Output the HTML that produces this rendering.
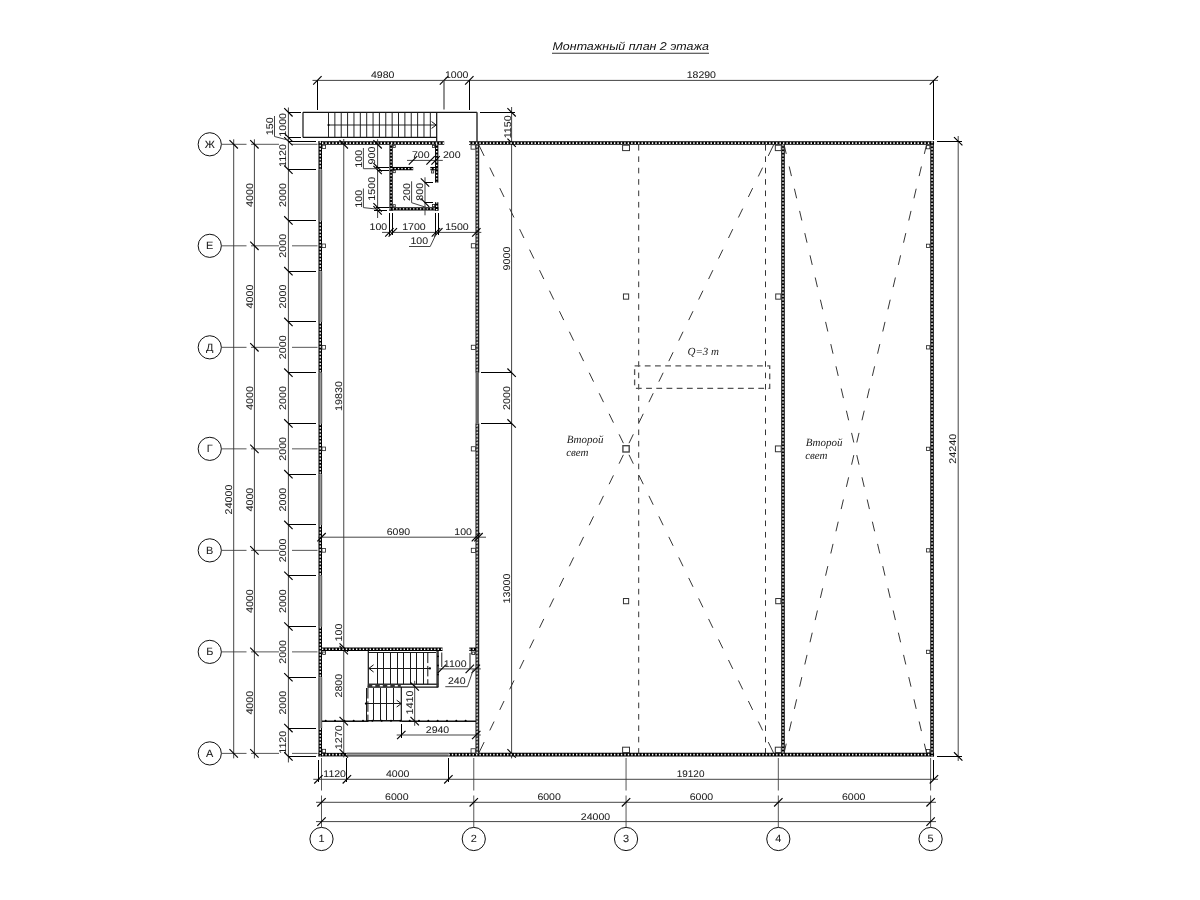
<!DOCTYPE html>
<html lang="ru"><head><meta charset="utf-8"><title>Монтажный план 2 этажа</title>
<style>
html,body{margin:0;padding:0;background:#fff;}
body{width:1200px;height:900px;overflow:hidden;font-family:"Liberation Sans",sans-serif;}
svg{display:block;position:absolute;left:0;top:0;filter:blur(0.25px);}
text{font-family:"Liberation Sans",sans-serif;text-rendering:geometricPrecision;}
.tx{fill:#1c1c1c;stroke:#1c1c1c;stroke-width:0.05;}
.ttl{fill:#111;font-style:italic;}
.it{font-family:"Liberation Serif",serif;font-style:italic;fill:#222;}
.ul{stroke:#333;stroke-width:1.1;}
.d{stroke:#3a3a3a;stroke-width:0.95;}
.t{stroke:#000;stroke-width:1.15;}
.e{stroke:#000;stroke-width:1;shape-rendering:crispEdges;}
.e2{stroke:#555;stroke-width:1.3;}
.e1{stroke:#000;stroke-width:1;shape-rendering:crispEdges;}
.o{stroke:#111;stroke-width:1.2;}
.o2{stroke:#333;stroke-width:1.5;}
.st{stroke:#1a1a1a;stroke-width:1;shape-rendering:crispEdges;}
.sdash{stroke:#111;stroke-width:1.0;stroke-dasharray:10.5 2.8;}
.ar{stroke:#111;stroke-width:1.0;}
.rail{stroke:#3c3c3c;stroke-width:2.5;}
.st0{stroke:#1a1a1a;stroke-width:0.95;}
.hat{stroke:#333;stroke-width:2.6;stroke-dasharray:4.5 3;}
.rl{stroke:#111;stroke-width:1.5;}
.ax{stroke:#444;stroke-width:0.9;}
.ac{fill:#fff;stroke:#111;stroke-width:1;}
.w{stroke:#000;stroke-width:3.55;}
.wd{stroke:#fff;stroke-width:1.75;stroke-dasharray:1.4 2.05;}
.wdv{stroke:#fff;stroke-width:1.25;stroke-dasharray:1.9 1.53;}
.w2{stroke:#858585;stroke-width:3.8;}
.w2r{stroke:#000;stroke-width:1.0;}
.w2l{stroke:#6e6e6e;stroke-width:0.8;}
.w2k{stroke:#000;stroke-width:1.3;stroke-dasharray:1.3 2.14;}
.w2w{stroke:#e6e6e6;stroke-width:0.95;stroke-dasharray:0.95 2.49;}
.wd2{stroke:#c4c4c4;stroke-width:1.6;stroke-dasharray:1.5 1.7;}
.w3{stroke:#000;stroke-width:3.3;}
.wd3{stroke:#fff;stroke-width:1.4;stroke-dasharray:1.35 2.05;}
.wb{stroke:#9a9a9a;stroke-width:3.6;}
.wl{stroke:#4a4a4a;stroke-width:1.3;}
.wr{stroke:#555;stroke-width:0.9;}
.op{stroke:#666;stroke-width:3.4;}
.col{fill:#fff;stroke:#333;stroke-width:1.0;}
.colb{fill:#fff;stroke:#444;stroke-width:1.35;}
.cols{fill:#fff;stroke:#222;stroke-width:0.8;}
.dgl{stroke:#2a2a2a;stroke-width:0.95;}
.dv{stroke:#2a2a2a;stroke-width:0.95;stroke-dasharray:5.6 5.78;}
.cr{fill:none;stroke:#555;stroke-width:1.3;stroke-dasharray:5.8 4.4;}
</style></head>
<body>
<svg width="1200" height="900" viewBox="0 0 1200 900">
<rect x="0" y="0" width="1200" height="900" fill="#fff"/>
<text class="ttl" transform="translate(552.5 50) scale(1.102 1)" font-size="11.3">Монтажный план 2 этажа</text>
<line class="ul" x1="552" y1="53.2" x2="709" y2="53.2"/>
<circle class="ac" cx="209.75" cy="144.3" r="11.6"/>
<text class="tx" transform="translate(209.75 147.75) scale(1.04 1)" text-anchor="middle" font-size="10.5">Ж</text>
<line class="ax" x1="221.25" y1="144.3" x2="246.5" y2="144.3"/>
<line class="ax" x1="251" y1="144.3" x2="279" y2="144.3"/>
<line class="ax" x1="292" y1="144.3" x2="317.5" y2="144.3"/>
<circle class="ac" cx="209.75" cy="245.82" r="11.6"/>
<text class="tx" transform="translate(209.75 249.27) scale(1.04 1)" text-anchor="middle" font-size="10.5">Е</text>
<line class="ax" x1="221.25" y1="245.82" x2="246.5" y2="245.82"/>
<line class="ax" x1="251" y1="245.82" x2="279" y2="245.82"/>
<line class="ax" x1="292" y1="245.82" x2="317.5" y2="245.82"/>
<circle class="ac" cx="209.75" cy="347.33" r="11.6"/>
<text class="tx" transform="translate(209.75 350.78) scale(1.04 1)" text-anchor="middle" font-size="10.5">Д</text>
<line class="ax" x1="221.25" y1="347.33" x2="246.5" y2="347.33"/>
<line class="ax" x1="251" y1="347.33" x2="279" y2="347.33"/>
<line class="ax" x1="292" y1="347.33" x2="317.5" y2="347.33"/>
<circle class="ac" cx="209.75" cy="448.85" r="11.6"/>
<text class="tx" transform="translate(209.75 452.3) scale(1.04 1)" text-anchor="middle" font-size="10.5">Г</text>
<line class="ax" x1="221.25" y1="448.85" x2="246.5" y2="448.85"/>
<line class="ax" x1="251" y1="448.85" x2="279" y2="448.85"/>
<line class="ax" x1="292" y1="448.85" x2="317.5" y2="448.85"/>
<circle class="ac" cx="209.75" cy="550.36" r="11.6"/>
<text class="tx" transform="translate(209.75 553.81) scale(1.04 1)" text-anchor="middle" font-size="10.5">В</text>
<line class="ax" x1="221.25" y1="550.36" x2="246.5" y2="550.36"/>
<line class="ax" x1="251" y1="550.36" x2="279" y2="550.36"/>
<line class="ax" x1="292" y1="550.36" x2="317.5" y2="550.36"/>
<circle class="ac" cx="209.75" cy="651.88" r="11.6"/>
<text class="tx" transform="translate(209.75 655.33) scale(1.04 1)" text-anchor="middle" font-size="10.5">Б</text>
<line class="ax" x1="221.25" y1="651.88" x2="246.5" y2="651.88"/>
<line class="ax" x1="251" y1="651.88" x2="279" y2="651.88"/>
<line class="ax" x1="292" y1="651.88" x2="317.5" y2="651.88"/>
<circle class="ac" cx="209.75" cy="753.4" r="11.6"/>
<text class="tx" transform="translate(209.75 756.85) scale(1.04 1)" text-anchor="middle" font-size="10.5">А</text>
<line class="ax" x1="221.25" y1="753.4" x2="246.5" y2="753.4"/>
<line class="ax" x1="251" y1="753.4" x2="279" y2="753.4"/>
<line class="ax" x1="292" y1="753.4" x2="317.5" y2="753.4"/>
<circle class="ac" cx="321.5" cy="839" r="11.6"/>
<text class="tx" transform="translate(321.5 842.45) scale(1.04 1)" text-anchor="middle" font-size="10.5">1</text>
<line class="ax" x1="321.5" y1="758" x2="321.5" y2="790.5"/>
<line class="ax" x1="321.5" y1="795.5" x2="321.5" y2="827.5"/>
<circle class="ac" cx="473.77" cy="839" r="11.6"/>
<text class="tx" transform="translate(473.77 842.45) scale(1.04 1)" text-anchor="middle" font-size="10.5">2</text>
<line class="ax" x1="473.77" y1="758" x2="473.77" y2="790.5"/>
<line class="ax" x1="473.77" y1="795.5" x2="473.77" y2="827.5"/>
<circle class="ac" cx="626.05" cy="839" r="11.6"/>
<text class="tx" transform="translate(626.05 842.45) scale(1.04 1)" text-anchor="middle" font-size="10.5">3</text>
<line class="ax" x1="626.05" y1="758" x2="626.05" y2="790.5"/>
<line class="ax" x1="626.05" y1="795.5" x2="626.05" y2="827.5"/>
<circle class="ac" cx="778.32" cy="839" r="11.6"/>
<text class="tx" transform="translate(778.32 842.45) scale(1.04 1)" text-anchor="middle" font-size="10.5">4</text>
<line class="ax" x1="778.32" y1="758" x2="778.32" y2="790.5"/>
<line class="ax" x1="778.32" y1="795.5" x2="778.32" y2="827.5"/>
<circle class="ac" cx="930.6" cy="839" r="11.6"/>
<text class="tx" transform="translate(930.6 842.45) scale(1.04 1)" text-anchor="middle" font-size="10.5">5</text>
<line class="ax" x1="930.6" y1="758" x2="930.6" y2="790.5"/>
<line class="ax" x1="930.6" y1="795.5" x2="930.6" y2="827.5"/>
<line class="d" x1="233.7" y1="139.3" x2="233.7" y2="758.4"/>
<line class="t" x1="229.5" y1="140.1" x2="237.9" y2="148.5"/>
<line class="t" x1="229.5" y1="749.2" x2="237.9" y2="757.6"/>
<text class="tx" transform="translate(231.5 499.55) rotate(-90) scale(1.11 1)" text-anchor="middle" font-size="9.7">24000</text>
<line class="d" x1="254.4" y1="139.3" x2="254.4" y2="758.4"/>
<line class="t" x1="250.2" y1="140.1" x2="258.6" y2="148.5"/>
<line class="t" x1="250.2" y1="241.62" x2="258.6" y2="250.02"/>
<line class="t" x1="250.2" y1="343.13" x2="258.6" y2="351.53"/>
<line class="t" x1="250.2" y1="444.65" x2="258.6" y2="453.05"/>
<line class="t" x1="250.2" y1="546.16" x2="258.6" y2="554.56"/>
<line class="t" x1="250.2" y1="647.68" x2="258.6" y2="656.08"/>
<line class="t" x1="250.2" y1="749.2" x2="258.6" y2="757.6"/>
<text class="tx" transform="translate(252.6 195.06) rotate(-90) scale(1.11 1)" text-anchor="middle" font-size="9.7">4000</text>
<text class="tx" transform="translate(252.6 296.57) rotate(-90) scale(1.11 1)" text-anchor="middle" font-size="9.7">4000</text>
<text class="tx" transform="translate(252.6 398.09) rotate(-90) scale(1.11 1)" text-anchor="middle" font-size="9.7">4000</text>
<text class="tx" transform="translate(252.6 499.61) rotate(-90) scale(1.11 1)" text-anchor="middle" font-size="9.7">4000</text>
<text class="tx" transform="translate(252.6 601.12) rotate(-90) scale(1.11 1)" text-anchor="middle" font-size="9.7">4000</text>
<text class="tx" transform="translate(252.6 702.64) rotate(-90) scale(1.11 1)" text-anchor="middle" font-size="9.7">4000</text>
<line class="d" x1="288.4" y1="107.5" x2="288.4" y2="762.44"/>
<line class="t" x1="284.2" y1="137.05" x2="292.6" y2="145.45"/>
<line class="t" x1="284.2" y1="165.48" x2="292.6" y2="173.88"/>
<line class="e" x1="288.4" y1="169.68" x2="316.2" y2="169.68"/>
<line class="t" x1="284.2" y1="216.24" x2="292.6" y2="224.64"/>
<line class="e" x1="288.4" y1="220.44" x2="316.2" y2="220.44"/>
<line class="t" x1="284.2" y1="267" x2="292.6" y2="275.39"/>
<line class="e" x1="288.4" y1="271.19" x2="316.2" y2="271.19"/>
<line class="t" x1="284.2" y1="317.75" x2="292.6" y2="326.15"/>
<line class="e" x1="288.4" y1="321.95" x2="316.2" y2="321.95"/>
<line class="t" x1="284.2" y1="368.51" x2="292.6" y2="376.91"/>
<line class="e" x1="288.4" y1="372.71" x2="316.2" y2="372.71"/>
<line class="t" x1="284.2" y1="419.27" x2="292.6" y2="427.67"/>
<line class="e" x1="288.4" y1="423.47" x2="316.2" y2="423.47"/>
<line class="t" x1="284.2" y1="470.03" x2="292.6" y2="478.43"/>
<line class="e" x1="288.4" y1="474.23" x2="316.2" y2="474.23"/>
<line class="t" x1="284.2" y1="520.78" x2="292.6" y2="529.18"/>
<line class="e" x1="288.4" y1="524.98" x2="316.2" y2="524.98"/>
<line class="t" x1="284.2" y1="571.54" x2="292.6" y2="579.94"/>
<line class="e" x1="288.4" y1="575.74" x2="316.2" y2="575.74"/>
<line class="t" x1="284.2" y1="622.3" x2="292.6" y2="630.7"/>
<line class="e" x1="288.4" y1="626.5" x2="316.2" y2="626.5"/>
<line class="t" x1="284.2" y1="673.06" x2="292.6" y2="681.46"/>
<line class="e" x1="288.4" y1="677.26" x2="316.2" y2="677.26"/>
<line class="t" x1="284.2" y1="723.82" x2="292.6" y2="732.22"/>
<line class="e" x1="288.4" y1="728.02" x2="316.2" y2="728.02"/>
<line class="t" x1="284.2" y1="752.24" x2="292.6" y2="760.64"/>
<text class="tx" transform="translate(285.7 155.47) rotate(-90) scale(1.11 1)" text-anchor="middle" font-size="9.7">1120</text>
<text class="tx" transform="translate(285.7 195.06) rotate(-90) scale(1.11 1)" text-anchor="middle" font-size="9.7">2000</text>
<text class="tx" transform="translate(285.7 245.82) rotate(-90) scale(1.11 1)" text-anchor="middle" font-size="9.7">2000</text>
<text class="tx" transform="translate(285.7 296.57) rotate(-90) scale(1.11 1)" text-anchor="middle" font-size="9.7">2000</text>
<text class="tx" transform="translate(285.7 347.33) rotate(-90) scale(1.11 1)" text-anchor="middle" font-size="9.7">2000</text>
<text class="tx" transform="translate(285.7 398.09) rotate(-90) scale(1.11 1)" text-anchor="middle" font-size="9.7">2000</text>
<text class="tx" transform="translate(285.7 448.85) rotate(-90) scale(1.11 1)" text-anchor="middle" font-size="9.7">2000</text>
<text class="tx" transform="translate(285.7 499.61) rotate(-90) scale(1.11 1)" text-anchor="middle" font-size="9.7">2000</text>
<text class="tx" transform="translate(285.7 550.36) rotate(-90) scale(1.11 1)" text-anchor="middle" font-size="9.7">2000</text>
<text class="tx" transform="translate(285.7 601.12) rotate(-90) scale(1.11 1)" text-anchor="middle" font-size="9.7">2000</text>
<text class="tx" transform="translate(285.7 651.88) rotate(-90) scale(1.11 1)" text-anchor="middle" font-size="9.7">2000</text>
<text class="tx" transform="translate(285.7 702.64) rotate(-90) scale(1.11 1)" text-anchor="middle" font-size="9.7">2000</text>
<text class="tx" transform="translate(285.7 742.23) rotate(-90) scale(1.11 1)" text-anchor="middle" font-size="9.7">1120</text>
<line class="e" x1="288.4" y1="141.25" x2="315.5" y2="141.25"/>
<line class="e" x1="288.4" y1="756.44" x2="315.5" y2="756.44"/>
<line class="o" x1="303" y1="112.3" x2="477" y2="112.3"/>
<line class="o" x1="303" y1="137.4" x2="436.7" y2="137.4"/>
<line class="o" x1="303" y1="112.3" x2="303" y2="137.4"/>
<line class="o" x1="436.7" y1="112.3" x2="436.7" y2="141.25"/>
<line class="o2" x1="477" y1="112.3" x2="477" y2="141.25"/>
<line class="st0" x1="328.5" y1="112.3" x2="328.5" y2="137.4"/>
<line class="st0" x1="334.86" y1="112.3" x2="334.86" y2="137.4"/>
<line class="st0" x1="341.23" y1="112.3" x2="341.23" y2="137.4"/>
<line class="st0" x1="347.59" y1="112.3" x2="347.59" y2="137.4"/>
<line class="st0" x1="353.96" y1="112.3" x2="353.96" y2="137.4"/>
<line class="st0" x1="360.32" y1="112.3" x2="360.32" y2="137.4"/>
<line class="st0" x1="366.69" y1="112.3" x2="366.69" y2="137.4"/>
<line class="st0" x1="373.05" y1="112.3" x2="373.05" y2="137.4"/>
<line class="st0" x1="379.42" y1="112.3" x2="379.42" y2="137.4"/>
<line class="st0" x1="385.78" y1="112.3" x2="385.78" y2="137.4"/>
<line class="st0" x1="392.15" y1="112.3" x2="392.15" y2="137.4"/>
<line class="st0" x1="398.51" y1="112.3" x2="398.51" y2="137.4"/>
<line class="st0" x1="404.88" y1="112.3" x2="404.88" y2="137.4"/>
<line class="st0" x1="411.24" y1="112.3" x2="411.24" y2="137.4"/>
<line class="st0" x1="417.61" y1="112.3" x2="417.61" y2="137.4"/>
<line class="st0" x1="423.97" y1="112.3" x2="423.97" y2="137.4"/>
<line class="st0" x1="430.34" y1="112.3" x2="430.34" y2="137.4"/>
<line class="st0" x1="328.5" y1="125" x2="436.1" y2="125"/>
<circle cx="328.5" cy="125" r="1.1" fill="#000"/>
<polyline class="ar" fill="none" points="431.6,121.6 436.2,125 431.6,128.4"/>
<line class="t" x1="284.2" y1="108.1" x2="292.6" y2="116.5"/>
<line class="t" x1="284.2" y1="133.2" x2="292.6" y2="141.6"/>
<line class="e" x1="288.4" y1="112.3" x2="300.8" y2="112.3"/>
<line class="e" x1="288.4" y1="137.4" x2="300.8" y2="137.4"/>
<text class="tx" transform="translate(285.7 124.85) rotate(-90) scale(1.11 1)" text-anchor="middle" font-size="9.7">1000</text>
<text class="tx" transform="translate(272.6 126.3) rotate(-90) scale(1.11 1)" text-anchor="middle" font-size="9.7">150</text>
<polyline class="d" fill="none" points="274.5,116 274.5,136.5 288.4,140.2"/>
<line class="d" x1="511.6" y1="107" x2="511.6" y2="758.4"/>
<line class="e" x1="479.5" y1="112.3" x2="515.1" y2="112.3"/>
<line class="t" x1="507.4" y1="108.1" x2="515.8" y2="116.5"/>
<line class="t" x1="507.4" y1="138.55" x2="515.8" y2="146.95"/>
<text class="tx" transform="translate(510.6 126.78) rotate(-90) scale(1.11 1)" text-anchor="middle" font-size="9.7">1150</text>
<line class="t" x1="507.4" y1="368.51" x2="515.8" y2="376.91"/>
<line class="t" x1="507.4" y1="419.27" x2="515.8" y2="427.67"/>
<line class="t" x1="507.4" y1="749.2" x2="515.8" y2="757.6"/>
<line class="e" x1="481" y1="372.71" x2="511.6" y2="372.71"/>
<line class="e" x1="481" y1="423.47" x2="511.6" y2="423.47"/>
<text class="tx" transform="translate(509.9 258.51) rotate(-90) scale(1.11 1)" text-anchor="middle" font-size="9.7">9000</text>
<text class="tx" transform="translate(509.9 398.09) rotate(-90) scale(1.11 1)" text-anchor="middle" font-size="9.7">2000</text>
<text class="tx" transform="translate(509.9 588.43) rotate(-90) scale(1.11 1)" text-anchor="middle" font-size="9.7">13000</text>
<line class="d" x1="312.5" y1="80.4" x2="938" y2="80.4"/>
<line class="t" x1="313.2" y1="84.6" x2="321.6" y2="76.2"/>
<line class="t" x1="439.8" y1="84.6" x2="448.2" y2="76.2"/>
<line class="t" x1="465.1" y1="84.6" x2="473.5" y2="76.2"/>
<line class="t" x1="929.74" y1="84.6" x2="938.14" y2="76.2"/>
<line class="e" x1="317.4" y1="80.4" x2="317.4" y2="109.5"/>
<line class="e2" x1="444" y1="80.4" x2="444" y2="109.5"/>
<line class="e" x1="469.3" y1="80.4" x2="469.3" y2="109.5"/>
<line class="e1" x1="933.5" y1="80.4" x2="933.5" y2="139.5"/>
<text class="tx" transform="translate(382.7 77.6) scale(1.095 1)" text-anchor="middle" font-size="9.65">4980</text>
<text class="tx" transform="translate(456.7 77.6) scale(1.095 1)" text-anchor="middle" font-size="9.65">1000</text>
<text class="tx" transform="translate(701.3 77.6) scale(1.095 1)" text-anchor="middle" font-size="9.65">18290</text>
<line class="d" x1="958.2" y1="136" x2="958.2" y2="761"/>
<line class="t" x1="954" y1="137.05" x2="962.4" y2="145.45"/>
<line class="t" x1="954" y1="752.24" x2="962.4" y2="760.64"/>
<line class="e" x1="936.5" y1="141.25" x2="961.7" y2="141.25"/>
<line class="e" x1="936.5" y1="756.44" x2="961.7" y2="756.44"/>
<text class="tx" transform="translate(956 448.8) rotate(-90) scale(1.11 1)" text-anchor="middle" font-size="9.7">24240</text>
<line class="d" x1="313.3" y1="779.3" x2="938" y2="779.3"/>
<line class="t" x1="314.25" y1="783.5" x2="322.65" y2="775.1"/>
<line class="t" x1="342.68" y1="783.5" x2="351.08" y2="775.1"/>
<line class="t" x1="444.19" y1="783.5" x2="452.59" y2="775.1"/>
<line class="t" x1="929.74" y1="783.5" x2="938.14" y2="775.1"/>
<line class="e" x1="318.45" y1="759.5" x2="318.45" y2="782.3"/>
<line class="e" x1="346.88" y1="757.5" x2="346.88" y2="782.3"/>
<line class="e" x1="448.39" y1="757.5" x2="448.39" y2="782.3"/>
<line class="e" x1="933.94" y1="759.5" x2="933.94" y2="780.3"/>
<text class="tx" transform="translate(323.3 776.95) scale(1.095 1)" text-anchor="start" font-size="9.65">1120</text>
<text class="tx" transform="translate(397.64 776.95) scale(1.095 1)" text-anchor="middle" font-size="9.65">4000</text>
<text class="tx" transform="translate(690.6 776.95) scale(1.03 1)" text-anchor="middle" font-size="9.65">19120</text>
<line class="d" x1="316" y1="802.3" x2="936" y2="802.3"/>
<line class="t" x1="317.3" y1="806.5" x2="325.7" y2="798.1"/>
<line class="t" x1="469.57" y1="806.5" x2="477.97" y2="798.1"/>
<line class="t" x1="621.85" y1="806.5" x2="630.25" y2="798.1"/>
<line class="t" x1="774.12" y1="806.5" x2="782.52" y2="798.1"/>
<line class="t" x1="926.4" y1="806.5" x2="934.8" y2="798.1"/>
<text class="tx" transform="translate(396.84 799.7) scale(1.095 1)" text-anchor="middle" font-size="9.65">6000</text>
<text class="tx" transform="translate(549.11 799.7) scale(1.095 1)" text-anchor="middle" font-size="9.65">6000</text>
<text class="tx" transform="translate(701.38 799.7) scale(1.095 1)" text-anchor="middle" font-size="9.65">6000</text>
<text class="tx" transform="translate(853.66 799.7) scale(1.095 1)" text-anchor="middle" font-size="9.65">6000</text>
<line class="d" x1="316" y1="821.6" x2="936" y2="821.6"/>
<line class="t" x1="317.3" y1="825.8" x2="325.7" y2="817.4"/>
<line class="t" x1="926.4" y1="825.8" x2="934.8" y2="817.4"/>
<text class="tx" transform="translate(595.5 820) scale(1.095 1)" text-anchor="middle" font-size="9.65">24000</text>
<line class="w" x1="318.45" y1="143.05" x2="444.2" y2="143.05"/>
<line class="wd" x1="318.45" y1="143.05" x2="444.2" y2="143.05"/>
<line class="w" x1="469" y1="143.05" x2="934.04" y2="143.05"/>
<line class="wd" x1="469" y1="143.05" x2="934.04" y2="143.05"/>
<line class="w" x1="318.45" y1="754.64" x2="346.88" y2="754.64"/>
<line class="wd" x1="318.45" y1="754.64" x2="346.88" y2="754.64"/>
<line class="w" x1="448.39" y1="754.64" x2="934.04" y2="754.64"/>
<line class="wd" x1="448.39" y1="754.64" x2="934.04" y2="754.64"/>
<line class="wb" x1="346.88" y1="754.64" x2="448.39" y2="754.64"/>
<line class="wr" x1="346.88" y1="753.19" x2="448.39" y2="753.19"/>
<line class="wl" x1="346.88" y1="755.89" x2="448.39" y2="755.89"/>
<line class="w" x1="932.04" y1="141.25" x2="932.04" y2="756.44"/>
<line class="wdv" x1="932.04" y1="141.25" x2="932.04" y2="756.44"/>
<line class="w" x1="320.25" y1="141.25" x2="320.25" y2="169.68"/>
<line class="wdv" x1="320.25" y1="141.25" x2="320.25" y2="169.68"/>
<line class="wb" x1="320.25" y1="169.68" x2="320.25" y2="220.44"/>
<line class="wl" x1="319" y1="169.68" x2="319" y2="220.44"/>
<line class="wr" x1="321.7" y1="169.68" x2="321.7" y2="220.44"/>
<line class="w" x1="320.25" y1="220.44" x2="320.25" y2="271.19"/>
<line class="wdv" x1="320.25" y1="220.44" x2="320.25" y2="271.19"/>
<line class="wb" x1="320.25" y1="271.19" x2="320.25" y2="321.95"/>
<line class="wl" x1="319" y1="271.19" x2="319" y2="321.95"/>
<line class="wr" x1="321.7" y1="271.19" x2="321.7" y2="321.95"/>
<line class="w" x1="320.25" y1="321.95" x2="320.25" y2="372.71"/>
<line class="wdv" x1="320.25" y1="321.95" x2="320.25" y2="372.71"/>
<line class="wb" x1="320.25" y1="372.71" x2="320.25" y2="423.47"/>
<line class="wl" x1="319" y1="372.71" x2="319" y2="423.47"/>
<line class="wr" x1="321.7" y1="372.71" x2="321.7" y2="423.47"/>
<line class="w" x1="320.25" y1="423.47" x2="320.25" y2="474.23"/>
<line class="wdv" x1="320.25" y1="423.47" x2="320.25" y2="474.23"/>
<line class="wb" x1="320.25" y1="474.23" x2="320.25" y2="524.98"/>
<line class="wl" x1="319" y1="474.23" x2="319" y2="524.98"/>
<line class="wr" x1="321.7" y1="474.23" x2="321.7" y2="524.98"/>
<line class="w" x1="320.25" y1="524.98" x2="320.25" y2="575.74"/>
<line class="wdv" x1="320.25" y1="524.98" x2="320.25" y2="575.74"/>
<line class="wb" x1="320.25" y1="575.74" x2="320.25" y2="626.5"/>
<line class="wl" x1="319" y1="575.74" x2="319" y2="626.5"/>
<line class="wr" x1="321.7" y1="575.74" x2="321.7" y2="626.5"/>
<line class="w" x1="320.25" y1="626.5" x2="320.25" y2="677.26"/>
<line class="wdv" x1="320.25" y1="626.5" x2="320.25" y2="677.26"/>
<line class="wb" x1="320.25" y1="677.26" x2="320.25" y2="728.02"/>
<line class="wl" x1="319" y1="677.26" x2="319" y2="728.02"/>
<line class="wr" x1="321.7" y1="677.26" x2="321.7" y2="728.02"/>
<line class="w" x1="320.25" y1="728.02" x2="320.25" y2="756.44"/>
<line class="wdv" x1="320.25" y1="728.02" x2="320.25" y2="756.44"/>
<line class="w2" x1="477.2" y1="144.25" x2="477.2" y2="372.71"/>
<line class="w2r" x1="478.7" y1="144.25" x2="478.7" y2="372.71"/>
<line class="w2l" x1="475.65" y1="144.25" x2="475.65" y2="372.71"/>
<line class="w2k" x1="476.85" y1="144.25" x2="476.85" y2="372.71"/>
<line class="w2w" stroke-dashoffset="-1.72" x1="477.55" y1="144.25" x2="477.55" y2="372.71"/>
<line class="w2" x1="477.2" y1="423.47" x2="477.2" y2="753.44"/>
<line class="w2r" x1="478.7" y1="423.47" x2="478.7" y2="753.44"/>
<line class="w2l" x1="475.65" y1="423.47" x2="475.65" y2="753.44"/>
<line class="w2k" x1="476.85" y1="423.47" x2="476.85" y2="753.44"/>
<line class="w2w" stroke-dashoffset="-1.72" x1="477.55" y1="423.47" x2="477.55" y2="753.44"/>
<line class="op" x1="477.2" y1="372.71" x2="477.2" y2="423.47"/>
<line class="w" x1="783" y1="144.25" x2="783" y2="753.44"/>
<line class="wdv" x1="783" y1="144.25" x2="783" y2="753.44"/>
<rect class="cols" x="321.95" y="244.02" width="3.6" height="3.6"/>
<rect class="cols" x="471.3" y="243.72" width="4.2" height="4.2"/>
<rect class="cols" x="926.55" y="244.17" width="3.3" height="3.3"/>
<rect class="cols" x="321.95" y="345.53" width="3.6" height="3.6"/>
<rect class="cols" x="471.3" y="345.23" width="4.2" height="4.2"/>
<rect class="cols" x="926.55" y="345.68" width="3.3" height="3.3"/>
<rect class="cols" x="321.95" y="447.05" width="3.6" height="3.6"/>
<rect class="cols" x="471.3" y="446.75" width="4.2" height="4.2"/>
<rect class="cols" x="926.55" y="447.2" width="3.3" height="3.3"/>
<rect class="cols" x="321.95" y="548.56" width="3.6" height="3.6"/>
<rect class="cols" x="471.3" y="548.26" width="4.2" height="4.2"/>
<rect class="cols" x="926.55" y="548.71" width="3.3" height="3.3"/>
<rect class="cols" x="321.95" y="650.08" width="3.6" height="3.6"/>
<rect class="cols" x="471.3" y="649.78" width="4.2" height="4.2"/>
<rect class="cols" x="926.55" y="650.23" width="3.3" height="3.3"/>
<rect class="cols" x="322.2" y="145.2" width="3.4" height="3.4"/>
<rect class="cols" x="322.2" y="749.3" width="3.4" height="3.4"/>
<rect class="cols" x="471.05" y="144.85" width="4.3" height="4.3"/>
<rect class="cols" x="471.05" y="748.75" width="4.3" height="4.3"/>
<rect class="cols" x="926.6" y="145.6" width="3.2" height="3.2"/>
<rect class="cols" x="926.6" y="749.6" width="3.2" height="3.2"/>
<rect class="col" x="622.6" y="145.2" width="6.9" height="5.4"/>
<rect class="col" x="775.32" y="145.2" width="6.0" height="5.4"/>
<rect class="colb" x="622.9" y="445.7" width="6.3" height="6.3"/>
<rect class="col" x="775.42" y="445.95" width="5.8" height="5.8"/>
<rect class="col" x="622.6" y="747.2" width="6.9" height="5.4"/>
<rect class="col" x="775.32" y="747.2" width="6.0" height="5.4"/>
<rect class="col" x="623.45" y="293.97" width="5.2" height="5.2"/>
<rect class="col" x="775.72" y="293.97" width="5.2" height="5.2"/>
<rect class="col" x="623.45" y="598.52" width="5.2" height="5.2"/>
<rect class="col" x="775.72" y="598.52" width="5.2" height="5.2"/>
<line class="dgl" stroke-dasharray="12.94 12.95 9.85 12.95 9.85 12.95 9.85 12.95 9.85 12.95 9.85 12.95 9.85 12.95 9.85 12.95 9.85 12.95 9.85 12.95 9.85 12.95 9.85 12.95 9.85 12.95 9.85 12.95 9.85 12.95 9.85 12.95 9.85 12.95 9.85 12.95 9.85 12.95 9.85 12.95 9.85 12.95 9.85 12.95 9.85 12.95 9.85 12.95 9.85 12.95 9.85 12.95 9.85 12.95 9.85 12.95 9.85 12.95 13.94" x1="478.5" y1="144.3" x2="773.9" y2="753.7"/>
<line class="dgl" stroke-dasharray="12.94 12.95 9.85 12.95 9.85 12.95 9.85 12.95 9.85 12.95 9.85 12.95 9.85 12.95 9.85 12.95 9.85 12.95 9.85 12.95 9.85 12.95 9.85 12.95 9.85 12.95 9.85 12.95 9.85 12.95 9.85 12.95 9.85 12.95 9.85 12.95 9.85 12.95 9.85 12.95 9.85 12.95 9.85 12.95 9.85 12.95 9.85 12.95 9.85 12.95 9.85 12.95 9.85 12.95 9.85 12.95 9.85 12.95 13.94" x1="773.9" y1="144.3" x2="478.5" y2="753.7"/>
<line class="dgl" stroke-dasharray="9.86 12.95 9.85 12.95 9.85 12.95 9.85 12.95 9.85 12.95 9.85 12.95 9.85 12.95 9.85 12.95 9.85 12.95 9.85 12.95 9.85 12.95 9.85 12.95 9.85 12.95 9.85 12.95 9.85 12.95 9.85 12.95 9.85 12.95 9.85 12.95 9.85 12.95 9.85 12.95 9.85 12.95 9.85 12.95 9.85 12.95 9.85 12.95 9.85 12.95 9.85 12.95 9.85 12.95 10.86" x1="784" y1="144.3" x2="926.6" y2="753.3"/>
<line class="dgl" stroke-dasharray="9.86 12.95 9.85 12.95 9.85 12.95 9.85 12.95 9.85 12.95 9.85 12.95 9.85 12.95 9.85 12.95 9.85 12.95 9.85 12.95 9.85 12.95 9.85 12.95 9.85 12.95 9.85 12.95 9.85 12.95 9.85 12.95 9.85 12.95 9.85 12.95 9.85 12.95 9.85 12.95 9.85 12.95 9.85 12.95 9.85 12.95 9.85 12.95 9.85 12.95 9.85 12.95 9.85 12.95 10.86" x1="926.6" y1="144.3" x2="784" y2="753.3"/>
<line class="dv" x1="638.7" y1="145" x2="638.7" y2="753"/>
<line class="dv" x1="765.5" y1="145" x2="765.5" y2="753"/>
<rect class="cr" x="634.6" y="365.8" width="135.1" height="22.5"/>
<text class="it" x="687.5" y="355" font-size="11">Q=3 т</text>
<text class="it" x="566.7" y="442.9" font-size="11">Второй</text>
<text class="it" x="566.2" y="455.8" font-size="11">свет</text>
<text class="it" x="805.7" y="445.6" font-size="11">Второй</text>
<text class="it" x="805.2" y="458.5" font-size="11">свет</text>
<line class="d" x1="343.75" y1="139" x2="343.75" y2="757.4"/>
<line class="t" x1="339.55" y1="140.1" x2="347.95" y2="148.5"/>
<line class="t" x1="339.55" y1="643.37" x2="347.95" y2="651.77"/>
<line class="t" x1="339.55" y1="645.9" x2="347.95" y2="654.3"/>
<line class="t" x1="339.55" y1="716.96" x2="347.95" y2="725.36"/>
<line class="t" x1="339.55" y1="749.2" x2="347.95" y2="757.6"/>
<text class="tx" transform="translate(341.55 396) rotate(-90) scale(1.11 1)" text-anchor="middle" font-size="9.7">19830</text>
<text class="tx" transform="translate(341.55 632.5) rotate(-90) scale(1.11 1)" text-anchor="middle" font-size="9.7">100</text>
<text class="tx" transform="translate(341.55 685.63) rotate(-90) scale(1.11 1)" text-anchor="middle" font-size="9.7">2800</text>
<text class="tx" transform="translate(341.55 737.28) rotate(-90) scale(1.11 1)" text-anchor="middle" font-size="9.7">1270</text>
<line class="d" x1="318.3" y1="537.2" x2="486" y2="537.2"/>
<line class="t" x1="317.3" y1="541.4" x2="325.7" y2="533"/>
<line class="t" x1="471.7" y1="541.4" x2="480.1" y2="533"/>
<line class="t" x1="474.3" y1="541.4" x2="482.7" y2="533"/>
<text class="tx" transform="translate(398.4 534.6) scale(1.095 1)" text-anchor="middle" font-size="9.65">6090</text>
<text class="tx" transform="translate(463.1 534.6) scale(1.095 1)" text-anchor="middle" font-size="9.65">100</text>
<line class="w3" x1="391.1" y1="144.25" x2="391.1" y2="210.7"/>
<line class="wd3" x1="391.1" y1="144.25" x2="391.1" y2="210.7"/>
<line class="w3" x1="389.3" y1="208.9" x2="438.5" y2="208.9"/>
<line class="wd3" x1="389.3" y1="208.9" x2="438.5" y2="208.9"/>
<line class="w3" x1="391.1" y1="168.6" x2="413.2" y2="168.6"/>
<line class="wd3" x1="391.1" y1="168.6" x2="413.2" y2="168.6"/>
<line class="w3" x1="436.7" y1="144.25" x2="436.7" y2="182.6"/>
<line class="wd3" x1="436.7" y1="144.25" x2="436.7" y2="182.6"/>
<line class="w3" x1="436.7" y1="202.2" x2="436.7" y2="210.7"/>
<line class="wd3" x1="436.7" y1="202.2" x2="436.7" y2="210.7"/>
<line class="w3" x1="430.3" y1="168.6" x2="436.7" y2="168.6"/>
<line class="wd3" x1="430.3" y1="168.6" x2="436.7" y2="168.6"/>
<rect class="cols" x="393.1" y="145.3" width="2.2" height="2.2"/>
<rect class="cols" x="432.5" y="145.3" width="2.2" height="2.2"/>
<rect class="cols" x="393.1" y="170.5" width="2.2" height="2.2"/>
<rect class="cols" x="431.5" y="170.8" width="2.2" height="2.2"/>
<rect class="cols" x="393.1" y="204.7" width="2.2" height="2.2"/>
<rect class="cols" x="432.5" y="204.5" width="2.2" height="2.2"/>
<line class="d" x1="377.6" y1="139.3" x2="377.6" y2="218"/>
<line class="t" x1="373.4" y1="140.1" x2="381.8" y2="148.5"/>
<line class="t" x1="373.4" y1="163.1" x2="381.8" y2="171.5"/>
<line class="t" x1="373.4" y1="165.8" x2="381.8" y2="174.2"/>
<line class="t" x1="373.4" y1="203.2" x2="381.8" y2="211.6"/>
<line class="t" x1="373.4" y1="206.2" x2="381.8" y2="214.6"/>
<line class="e" x1="375.6" y1="167.2" x2="389" y2="167.2"/>
<line class="e" x1="377.6" y1="170.1" x2="389" y2="170.1"/>
<line class="e" x1="375.6" y1="207.4" x2="389" y2="207.4"/>
<line class="e" x1="373.6" y1="210.5" x2="387" y2="210.5"/>
<text class="tx" transform="translate(375.4 155.5) rotate(-90) scale(1.11 1)" text-anchor="middle" font-size="9.7">900</text>
<text class="tx" transform="translate(375.4 188.7) rotate(-90) scale(1.11 1)" text-anchor="middle" font-size="9.7">1500</text>
<text class="tx" transform="translate(362 158.7) rotate(-90) scale(1.11 1)" text-anchor="middle" font-size="9.7">100</text>
<text class="tx" transform="translate(362 198.7) rotate(-90) scale(1.11 1)" text-anchor="middle" font-size="9.7">100</text>
<polyline class="d" fill="none" points="363.4,148 363.4,168.7 377.6,168.7"/>
<polyline class="d" fill="none" points="363.4,188.5 363.4,207.6 377.6,209.2"/>
<line class="d" x1="407" y1="160.4" x2="442.8" y2="160.4"/>
<line class="t" x1="408.8" y1="164.6" x2="417.2" y2="156.2"/>
<line class="t" x1="426.4" y1="164.6" x2="434.8" y2="156.2"/>
<line class="t" x1="431.4" y1="164.6" x2="439.8" y2="156.2"/>
<text class="tx" transform="translate(420.7 157.6) scale(1.095 1)" text-anchor="middle" font-size="9.65">700</text>
<text class="tx" transform="translate(451.8 157.6) scale(1.095 1)" text-anchor="middle" font-size="9.65">200</text>
<line class="d" x1="425" y1="177.3" x2="425" y2="215.3"/>
<line class="t" x1="420.8" y1="178.3" x2="429.2" y2="186.7"/>
<line class="t" x1="420.8" y1="198.4" x2="429.2" y2="206.8"/>
<line class="e" x1="425" y1="182.5" x2="433" y2="182.5"/>
<line class="e" x1="425" y1="202.6" x2="433" y2="202.6"/>
<text class="tx" transform="translate(422.8 191.8) rotate(-90) scale(1.11 1)" text-anchor="middle" font-size="9.7">800</text>
<text class="tx" transform="translate(409.6 192) rotate(-90) scale(1.11 1)" text-anchor="middle" font-size="9.7">200</text>
<polyline class="d" fill="none" points="411.6,181.3 411.6,202.7 428.7,208.2"/>
<line class="d" x1="382" y1="232.4" x2="481.3" y2="232.4"/>
<line class="t" x1="385.2" y1="236.6" x2="393.6" y2="228.2"/>
<line class="t" x1="388.6" y1="236.6" x2="397" y2="228.2"/>
<line class="t" x1="431.7" y1="236.6" x2="440.1" y2="228.2"/>
<line class="t" x1="434.1" y1="236.6" x2="442.5" y2="228.2"/>
<line class="t" x1="472.1" y1="236.6" x2="480.5" y2="228.2"/>
<line class="e" x1="389.4" y1="212.8" x2="389.4" y2="235.4"/>
<line class="e" x1="392.8" y1="212.8" x2="392.8" y2="235.4"/>
<line class="e" x1="435.4" y1="212.8" x2="435.4" y2="235.4"/>
<line class="e" x1="438.2" y1="212.8" x2="438.2" y2="235.4"/>
<text class="tx" transform="translate(378.4 230.3) scale(1.095 1)" text-anchor="middle" font-size="9.65">100</text>
<text class="tx" transform="translate(413.9 230.3) scale(1.095 1)" text-anchor="middle" font-size="9.65">1700</text>
<text class="tx" transform="translate(456.9 230.3) scale(1.095 1)" text-anchor="middle" font-size="9.65">1500</text>
<text class="tx" transform="translate(419.2 244.2) scale(1.095 1)" text-anchor="middle" font-size="9.65">100</text>
<polyline class="d" fill="none" points="409,246.5 430.2,246.5 436.9,232.4"/>
<line class="w3" x1="322" y1="649.23" x2="442.5" y2="649.23"/>
<line class="wd3" x1="322" y1="649.23" x2="442.5" y2="649.23"/>
<line class="w3" x1="469.2" y1="649.23" x2="476" y2="649.23"/>
<line class="wd3" x1="469.2" y1="649.23" x2="476" y2="649.23"/>
<rect class="cols" x="322.7" y="652" width="2.6" height="2.6"/>
<rect class="cols" x="472.1" y="652" width="2.6" height="2.6"/>
<line class="o" x1="368.3" y1="650.9" x2="368.3" y2="687.2"/>
<line class="st" x1="368.3" y1="652.6" x2="435.6" y2="652.6"/>
<line class="rail" x1="437.6" y1="650.9" x2="437.6" y2="687.2"/>
<line class="o2" x1="368.3" y1="684.2" x2="438.3" y2="684.2"/>
<line class="o" x1="367.5" y1="687.2" x2="438.3" y2="687.2"/>
<line class="hat" x1="367.8" y1="685.7" x2="400.8" y2="685.7"/>
<line class="st" x1="377.4" y1="652.6" x2="377.4" y2="684.2"/>
<line class="st" x1="383.95" y1="652.6" x2="383.95" y2="684.2"/>
<line class="st" x1="390.5" y1="652.6" x2="390.5" y2="684.2"/>
<line class="st" x1="397.05" y1="652.6" x2="397.05" y2="684.2"/>
<line class="st" x1="403.6" y1="652.6" x2="403.6" y2="684.2"/>
<line class="st" x1="410.15" y1="652.6" x2="410.15" y2="684.2"/>
<line class="st" x1="416.7" y1="652.6" x2="416.7" y2="684.2"/>
<line class="st" x1="423.25" y1="652.6" x2="423.25" y2="684.2"/>
<line class="sdash" x1="427.8" y1="652.6" x2="427.8" y2="684.2"/>
<line class="st" x1="369" y1="668.4" x2="429.7" y2="668.4"/>
<circle cx="429.9" cy="668.4" r="1.1" fill="#000"/>
<polyline class="ar" fill="none" points="373.6,664.8 368.9,668.4 373.6,672"/>
<circle cx="438" cy="656.3" r="0.9" fill="#000"/><circle cx="438" cy="665.5" r="0.9" fill="#000"/><circle cx="438" cy="674.6" r="0.9" fill="#000"/>
<line class="st" x1="366.7" y1="688" x2="366.7" y2="721.16"/>
<line class="o" x1="401.3" y1="687" x2="401.3" y2="721.16"/>
<line class="sdash" x1="367.9" y1="688" x2="367.9" y2="721.16"/>
<line class="st" x1="373.4" y1="688" x2="373.4" y2="721.16"/>
<line class="st" x1="380" y1="688" x2="380" y2="721.16"/>
<line class="st" x1="386.6" y1="688" x2="386.6" y2="721.16"/>
<line class="st" x1="393.2" y1="688" x2="393.2" y2="721.16"/>
<line class="st" x1="365.8" y1="703.6" x2="401" y2="703.6"/>
<circle cx="365.9" cy="703.6" r="1.1" fill="#000"/>
<polyline class="ar" fill="none" points="396.7,700.2 401.3,703.6 396.7,707"/>
<line class="rl" x1="322" y1="721.36" x2="368.5" y2="721.36"/>
<line class="rl" x1="366.5" y1="720.66" x2="401.5" y2="720.66"/>
<line class="rl" x1="401.3" y1="721.36" x2="476" y2="721.36"/>
<circle cx="325.7" cy="720.86" r="1.0" fill="#000"/>
<circle cx="335.03" cy="720.86" r="1.0" fill="#000"/>
<circle cx="344.36" cy="720.86" r="1.0" fill="#000"/>
<circle cx="353.69" cy="720.86" r="1.0" fill="#000"/>
<circle cx="363.02" cy="720.86" r="1.0" fill="#000"/>
<circle cx="372.35" cy="720.86" r="1.0" fill="#000"/>
<circle cx="381.68" cy="720.86" r="1.0" fill="#000"/>
<circle cx="391.01" cy="720.86" r="1.0" fill="#000"/>
<circle cx="400.34" cy="720.86" r="1.0" fill="#000"/>
<circle cx="409.67" cy="720.86" r="1.0" fill="#000"/>
<circle cx="419" cy="720.86" r="1.0" fill="#000"/>
<circle cx="428.33" cy="720.86" r="1.0" fill="#000"/>
<circle cx="437.66" cy="720.86" r="1.0" fill="#000"/>
<circle cx="446.99" cy="720.86" r="1.0" fill="#000"/>
<circle cx="456.32" cy="720.86" r="1.0" fill="#000"/>
<circle cx="465.65" cy="720.86" r="1.0" fill="#000"/>
<line class="d" x1="414.7" y1="680.8" x2="414.7" y2="725.8"/>
<line class="t" x1="410.5" y1="682.3" x2="418.9" y2="690.7"/>
<line class="t" x1="410.5" y1="716.96" x2="418.9" y2="725.36"/>
<text class="tx" transform="translate(412.5 702.5) rotate(-90) scale(1.11 1)" text-anchor="middle" font-size="9.7">1410</text>
<line class="d" x1="396.7" y1="735" x2="480.8" y2="735"/>
<line class="t" x1="397.1" y1="739.2" x2="405.5" y2="730.8"/>
<line class="t" x1="472" y1="739.2" x2="480.4" y2="730.8"/>
<line class="e" x1="401.3" y1="724" x2="401.3" y2="738"/>
<text class="tx" transform="translate(437.5 732.6) scale(1.095 1)" text-anchor="middle" font-size="9.65">2940</text>
<line class="d" x1="438.3" y1="668.9" x2="480.8" y2="668.9"/>
<line class="t" x1="437.6" y1="673.1" x2="446" y2="664.7"/>
<line class="t" x1="465.6" y1="673.1" x2="474" y2="664.7"/>
<line class="t" x1="471.6" y1="673.1" x2="480" y2="664.7"/>
<line class="e2" x1="441.7" y1="652.6" x2="441.7" y2="667"/>
<line class="e2" x1="470" y1="653" x2="470" y2="668"/>
<text class="tx" transform="translate(455.2 666.6) scale(1.095 1)" text-anchor="middle" font-size="9.65">1100</text>
<text class="tx" transform="translate(456.7 684.2) scale(1.095 1)" text-anchor="middle" font-size="9.65">240</text>
<polyline class="d" fill="none" points="445.3,686.7 467.5,686.7 473.4,669.2"/>
</svg>
</body></html>
